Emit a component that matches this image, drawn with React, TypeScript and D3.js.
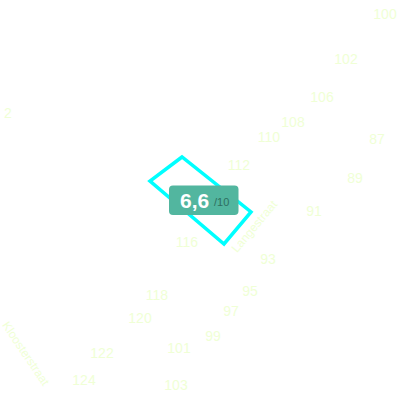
import React from 'react';
import * as d3 from 'd3';

// house numbers on the map, in map units
const houseNumbers = ['100', '102', '106', '108', '110', '87', '112', '89', '91', '116', '93', '95', '97', '99', '101', '103', '118', '120', '122', '124', '2'];
const houseX = [385, 346, 322, 293, 269, 377, 239, 355, 314, 187, 268, 250, 231, 213, 179, 176, 157, 140, 102, 84, 8];
const houseY = [14, 59, 97, 122, 137, 139, 165, 178, 211, 242, 259, 291, 311, 336, 348, 385, 295, 318, 353, 380, 113];

const streetNames = ['Langestraat', 'Kloosterstraat'];
const streetX = [255, 25];
const streetY = [227, 354];
const streetAngle = [-50, 56];

// highlighted parcel outline
const parcelX = [182, 150, 224, 251];
const parcelY = [157, 181, 244, 212];

const score = '6,6';
const scoreMax = '/10';

const width = 400;
const height = 400;
const labelColor = '#f0ffd6';

const App: React.FC = () => {
  const x = d3.scaleLinear().domain([0, 400]).range([0, width]);
  const y = d3.scaleLinear().domain([0, 400]).range([0, height]);

  const outline = d3.line<number>()
    .x((d) => x(parcelX[d]))
    .y((d) => y(parcelY[d]))
    .curve(d3.curveLinearClosed);

  return (
    <svg
      width={width}
      height={height}
      style={{ position: 'fixed', left: 0, top: 0, fontFamily: '"Liberation Sans", Arial, sans-serif' }}
    >
      <rect width={width} height={height} fill="#ffffff" />
      {streetNames.map((name, i) => (
        <text
          key={name}
          transform={`translate(${x(streetX[i])},${y(streetY[i])}) rotate(${streetAngle[i]})`}
          textAnchor="middle"
          dominantBaseline="middle"
          fontSize={12}
          fill={labelColor}
        >
          {name}
        </text>
      ))}
      {houseNumbers.map((label, i) => (
        <text
          key={label}
          x={x(houseX[i])}
          y={y(houseY[i])}
          textAnchor="middle"
          dominantBaseline="central"
          fontSize={14}
          fill={labelColor}
        >
          {label}
        </text>
      ))}
      <path d={outline(d3.range(parcelX.length)) || ''} fill="none" stroke="#00ffff" strokeWidth={3.5} />
      <rect x={169} y={185.5} width={69.5} height={29.5} rx={4} fill="#52b69f" />
      <text x={180} y={208} fontSize={21} fontWeight="bold" fill="#ffffff">{score}</text>
      <text x={214} y={206} fontSize={11} fill="#2f6f60">{scoreMax}</text>
    </svg>
  );
};

export default App;
